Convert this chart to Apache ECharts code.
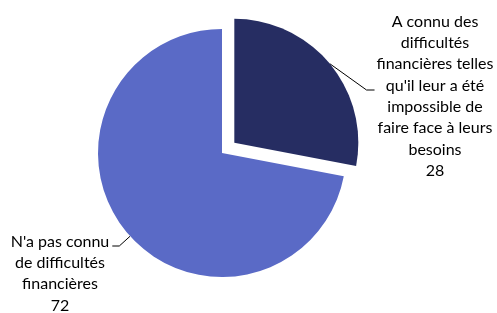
<!DOCTYPE html>
<html>
<head>
<meta charset="utf-8">
<script src="https://cdn.jsdelivr.net/npm/echarts@6/dist/echarts.min.js"></script>
<style>
  html, body { margin: 0; padding: 0; background: #fff; }
  #chart { width: 497px; height: 313px; }
</style>
</head>
<body>
<div id="chart"></div>
<script>
var categories = [
  "A connu des\ndifficultés\nfinancières telles\nqu'il leur a été\nimpossible de\nfaire face à leurs\nbesoins",
  "N'a pas connu\nde difficultés\nfinancières"
];
var values = [28, 72];
var colors = ['#262d62', '#5a6ac6'];

// label top-centre positions (px)
var labelPos = [[435, 11], [60, 231]];

var myChart = echarts.init(document.getElementById('chart'));

// the dark slice is pulled out along its bisector
var cx = 222, cy = 153, r = 124, explode = 16;
var total = values[0] + values[1];
var mid = Math.PI * values[0] / total; // half of the slice angle, from 12 o'clock
var centers = [[cx, cy], [cx + explode * Math.sin(mid), cy - explode * Math.cos(mid)]];

function slices(show) {
  return categories.map(function (name, i) {
    var on = i === show;
    return {
      name: name,
      value: values[i],
      itemStyle: { color: on ? colors[i] : 'rgba(0,0,0,0)' },
      label: { show: on },
      labelLine: { show: on }
    };
  });
}

function onArc(c, p) {
  var dx = p[0] - c[0], dy = p[1] - c[1];
  var d = Math.sqrt(dx * dx + dy * dy);
  return [c[0] + dx / d * r, c[1] + dy / d * r];
}

function layoutLabel(seriesIdx) {
  return function (params) {
    var i = params.dataIndex;
    var p = labelPos[i];
    var w = params.labelRect.width;
    var end, bend, start;
    if (i === 0) {
      end = [p[0] - w / 2 - 2, p[1] + 79];
      bend = [end[0] - 8, end[1]];
      start = params.labelLinePoints ? params.labelLinePoints[0] : onArc(centers[seriesIdx], bend);
    } else {
      end = [p[0] + w / 2 + 3, p[1] + 15];
      bend = [end[0] + 7, end[1]];
      start = onArc(centers[seriesIdx], bend);
    }
    return {
      x: p[0], y: p[1], align: 'center', verticalAlign: 'top',
      labelLinePoints: [start, bend, end]
    };
  };
}

function pie(seriesIdx, show) {
  return {
    type: 'pie',
    center: centers[seriesIdx],
    radius: r,
    startAngle: 90,
    clockwise: true,
    silent: true,
    data: slices(show),
    label: {
      position: 'outside',
      formatter: '{b}\n{c}',
      fontFamily: 'Lato',
      fontSize: 16,
      lineHeight: 21.3,
      color: '#000',
      align: 'center',
      overflow: 'none'
    },
    labelLine: {
      lineStyle: { color: '#000', width: 1 }
    },
    labelLayout: layoutLabel(seriesIdx),
    emphasis: { disabled: true }
  };
}

var option = {
  animation: false,
  series: [pie(0, 1), pie(1, 0)]
};

myChart.setOption(option);
</script>
</body>
</html>
